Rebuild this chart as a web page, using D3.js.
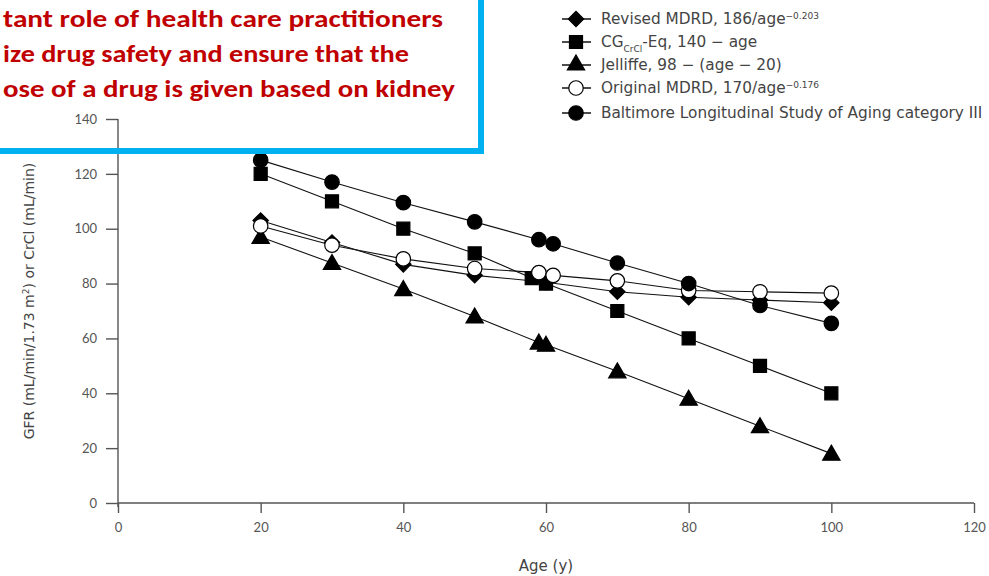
<!DOCTYPE html>
<html>
<head>
<meta charset="utf-8">
<script src="https://d3js.org/d3.v7.min.js"></script>
<style>
  body { margin: 0; background: #fff; }
  svg { display: block; }
  .axis path, .axis line { stroke: #555; stroke-width: 1.4; }
  .axis text { fill: #555; font-family: Lato, "Open Sans", sans-serif; font-size: 13px; }
  .series-line { fill: none; stroke: #111; stroke-width: 1.1; }
  .lbl { font-family: "DejaVu Sans", sans-serif; fill: #444; }
</style>
</head>
<body>
<div id="chart"></div>
<script>
// values (age in years, GFR / CrCl in mL/min)
var revisedAges = [20, 30, 40, 50, 60, 70, 80, 90, 100];
var revisedVals = [103, 95, 87, 83, 80.5, 77, 75, 74, 73];

var cgAges = [20, 30, 40, 50, 58, 60, 70, 80, 90, 100];
var cgVals = [120, 110, 100, 91, 82, 80, 70, 60, 50, 40];

var jelliffeAges = [20, 30, 40, 50, 59, 60, 70, 80, 90, 100];
var jelliffeVals = [97, 87.5, 78, 68, 58.5, 57.7, 48, 38, 28, 18];

var originalAges = [20, 30, 40, 50, 59, 61, 70, 80, 90, 100];
var originalVals = [101, 94, 89, 85.5, 84, 83, 81, 77.5, 77, 76.5];

var baltimoreAges = [20, 30, 40, 50, 59, 61, 70, 80, 90, 100];
var baltimoreVals = [125, 117, 109.5, 102.5, 96, 94.5, 87.5, 80, 72, 65.5];

var xTicks = [0, 20, 40, 60, 80, 100, 120];
var yTicks = [0, 20, 40, 60, 80, 100, 120, 140];

var boxLines = [
  "tant role of health care practitioners",
  "ize drug safety and ensure that the",
  "ose of a drug is given based on kidney"
];

var width = 989, height = 576;

var svg = d3.select("#chart").append("svg")
  .attr("width", width)
  .attr("height", height);

var x = d3.scaleLinear().domain([0, 120]).range([118, 974]);
var y = d3.scaleLinear().domain([0, 140]).range([503, 119]);

// axes
svg.append("g")
  .attr("class", "axis")
  .attr("transform", "translate(0,503)")
  .call(d3.axisBottom(x).tickValues(xTicks).tickSize(10).tickSizeOuter(0).tickPadding(10))
  .call(function(g) { g.select(".domain").attr("d", "M" + x(0) + ",0H" + x(120)); });

svg.append("g")
  .attr("class", "axis")
  .attr("transform", "translate(118,0)")
  .call(d3.axisLeft(y).tickValues(yTicks).tickSize(12).tickSizeOuter(0).tickPadding(9))
  .call(function(g) { g.select(".domain").attr("d", "M0," + y(140) + "V" + (y(0) + 4)); });

svg.append("text")
  .attr("class", "lbl")
  .attr("x", x(60)).attr("y", 571)
  .attr("text-anchor", "middle")
  .attr("font-size", 15)
  .text("Age (y)");

var yt = svg.append("text")
  .attr("class", "lbl")
  .attr("transform", "translate(34,301) rotate(-90)")
  .attr("text-anchor", "middle")
  .attr("font-size", 14);
yt.append("tspan").text("GFR (mL/min/1.73 m");
yt.append("tspan").attr("baseline-shift", "super").attr("font-size", 9).text("2");
yt.append("tspan").text(") or CrCl (mL/min)");

// marker shapes
var sym = {
  diamond: d3.symbol().type(d3.symbolSquare).size(118),
  square: d3.symbol().type(d3.symbolSquare).size(170),
  triangle: d3.symbol().type(d3.symbolTriangle).size(130),
  circle: d3.symbol().type(d3.symbolCircle).size(165)
};
var rot = { diamond: " rotate(45)", square: "", triangle: "", circle: "" };

var series = [
  {ages: revisedAges, vals: revisedVals, shape: "diamond", fill: "#000"},
  {ages: cgAges, vals: cgVals, shape: "square", fill: "#000"},
  {ages: jelliffeAges, vals: jelliffeVals, shape: "triangle", fill: "#000"},
  {ages: originalAges, vals: originalVals, shape: "circle", fill: "#fff"},
  {ages: baltimoreAges, vals: baltimoreVals, shape: "circle", fill: "#000"}
];

var line = d3.line()
  .x(function(d) { return x(d[0]); })
  .y(function(d) { return y(d[1]); });

series.forEach(function(s) {
  s.pts = s.ages.map(function(a, i) { return [a, s.vals[i]]; });
  svg.append("path").attr("class", "series-line").attr("d", line(s.pts));
});

series.forEach(function(s) {
  svg.append("g").selectAll("path")
    .data(s.pts)
    .enter().append("path")
      .attr("d", sym[s.shape])
      .attr("transform", function(d) {
        var dy = s.shape === "triangle" ? 1.5 : 0;
        return "translate(" + x(d[0]) + "," + (y(d[1]) + dy) + ")" + rot[s.shape];
      })
      .attr("fill", s.fill)
      .attr("stroke", "#000")
      .attr("stroke-width", 1.2);
});

// legend
var legendY = [19, 42, 65, 88, 113];
var leg = svg.append("g").attr("class", "legend");
series.forEach(function(s, i) {
  var g = leg.append("g").attr("transform", "translate(0," + legendY[i] + ")");
  g.append("line").attr("x1", 562).attr("x2", 591).attr("y1", 0).attr("y2", 0)
    .attr("stroke", "#000").attr("stroke-width", 1.4);
  g.append("path").attr("d", sym[s.shape]).attr("transform", "translate(576,0)" + rot[s.shape])
    .attr("fill", s.fill).attr("stroke", "#000").attr("stroke-width", 1.2);
});

function legendText(i) {
  return leg.append("text").attr("class", "lbl")
    .attr("x", 601).attr("y", legendY[i] + 5)
    .attr("font-size", 15.3);
}
var t0 = legendText(0);
t0.append("tspan").text("Revised MDRD, 186/age");
t0.append("tspan").attr("baseline-shift", "super").attr("font-size", 9).text("\u22120.203");
var t1 = legendText(1);
t1.append("tspan").text("CG");
t1.append("tspan").attr("baseline-shift", "sub").attr("font-size", 9).text("CrCl");
t1.append("tspan").attr("baseline-shift", "0").text("-Eq, 140 \u2212 age");
legendText(2).text("Jelliffe, 98 \u2212 (age \u2212 20)");
var t3 = legendText(3);
t3.append("tspan").text("Original MDRD, 170/age");
t3.append("tspan").attr("baseline-shift", "super").attr("font-size", 9).text("\u22120.176");
legendText(4).text("Baltimore Longitudinal Study of Aging category III");

// overlaid text box (partly cut off on the left)
svg.append("rect")
  .attr("x", -20).attr("y", -20)
  .attr("width", 501).attr("height", 171)
  .attr("fill", "none")
  .attr("stroke", "#00b0f0")
  .attr("stroke-width", 6);

var boxWidths = [440, 406, 452];
boxLines.forEach(function(t, i) {
  svg.append("text")
    .attr("x", 3).attr("y", 27 + i * 35)
    .attr("font-family", "Carlito, Lato, 'Open Sans', sans-serif")
    .attr("font-weight", "bold")
    .attr("font-size", 25)
    .attr("fill", "#c00000")
    .attr("textLength", boxWidths[i])
    .attr("lengthAdjust", "spacingAndGlyphs")
    .text(t);
});
</script>
</body>
</html>
